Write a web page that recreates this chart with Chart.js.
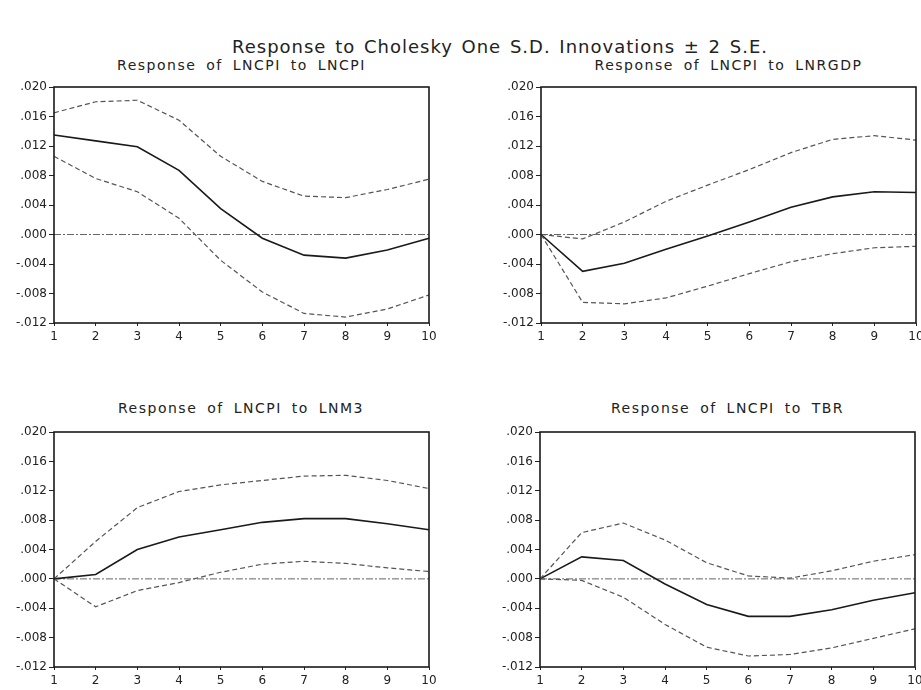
<!DOCTYPE html>
<html>
<head>
<meta charset="utf-8">
<script src="https://cdn.jsdelivr.net/npm/chart.js@4.4.1/dist/chart.umd.min.js"></script>
<style>
  html, body { margin: 0; padding: 0; background: #ffffff; }
  body { width: 921px; height: 690px; position: relative; overflow: hidden; }
  .ttl { position: absolute; font-family: "DejaVu Sans", Arial, sans-serif; color: #222; white-space: nowrap; text-align: center; }
  #mainTitle { left: 0px; width: 1000px; top: 36px; font-size: 18px; letter-spacing: 1px; word-spacing: 2px; line-height: 21px; }
  .sub { font-size: 14px; letter-spacing: 1.5px; word-spacing: 4px; line-height: 16px; }
  canvas { position: absolute; }
</style>
</head>
<body>
<div id="mainTitle" class="ttl">Response to Cholesky One S.D. Innovations ± 2 S.E.</div>
<div class="ttl sub" style="left:54px;width:375px;top:57px;">Response of LNCPI to LNCPI</div>
<div class="ttl sub" style="left:541px;width:375px;top:57px;">Response of LNCPI to LNRGDP</div>
<div class="ttl sub" style="left:53px;width:376px;top:400px;">Response of LNCPI to LNM3</div>
<div class="ttl sub" style="left:540px;width:375px;top:400px;">Response of LNCPI to TBR</div>
<canvas id="c1" width="441" height="265" style="left:0px;top:80px;"></canvas>
<canvas id="c2" width="434" height="265" style="left:487px;top:80px;"></canvas>
<canvas id="c3" width="441" height="264" style="left:0px;top:425px;"></canvas>
<canvas id="c4" width="435" height="264" style="left:486px;top:425px;"></canvas>
<script>
// ---- Data ----
const periods = ["1","2","3","4","5","6","7","8","9","10"];
const yTicks = [-0.012, -0.008, -0.004, 0.000, 0.004, 0.008, 0.012, 0.016, 0.020];

// Response of LNCPI to LNCPI
const cpiResp  = [0.0135, 0.0127, 0.0119, 0.0087, 0.0035, -0.0005, -0.0028, -0.0032, -0.0021, -0.0005];
const cpiUpper = [0.0165, 0.0180, 0.0182, 0.0155, 0.0106, 0.0072, 0.0052, 0.0050, 0.0061, 0.0075];
const cpiLower = [0.0106, 0.0076, 0.0058, 0.0022, -0.0035, -0.0078, -0.0107, -0.0112, -0.0101, -0.0082];

// Response of LNCPI to LNRGDP
const gdpResp  = [0.0000, -0.0050, -0.0039, -0.0020, -0.0002, 0.0017, 0.0037, 0.0051, 0.0058, 0.0057];
const gdpUpper = [0.0000, -0.0006, 0.0017, 0.0045, 0.0067, 0.0088, 0.0111, 0.0129, 0.0134, 0.0128];
const gdpLower = [0.0000, -0.0092, -0.0094, -0.0086, -0.0070, -0.0053, -0.0037, -0.0026, -0.0018, -0.0016];

// Response of LNCPI to LNM3
const m3Resp  = [0.0000, 0.0006, 0.0040, 0.0057, 0.0067, 0.0077, 0.0082, 0.0082, 0.0075, 0.0067];
const m3Upper = [0.0000, 0.0051, 0.0097, 0.0119, 0.0128, 0.0134, 0.0140, 0.0141, 0.0134, 0.0123];
const m3Lower = [0.0000, -0.0038, -0.0016, -0.0005, 0.0009, 0.0020, 0.0024, 0.0021, 0.0015, 0.0010];

// Response of LNCPI to TBR
const tbrResp  = [0.0000, 0.0030, 0.0025, -0.0007, -0.0035, -0.0051, -0.0051, -0.0042, -0.0029, -0.0019];
const tbrUpper = [0.0000, 0.0063, 0.0076, 0.0053, 0.0022, 0.0004, 0.0001, 0.0011, 0.0024, 0.0033];
const tbrLower = [0.0000, -0.0002, -0.0025, -0.0062, -0.0093, -0.0105, -0.0103, -0.0094, -0.0081, -0.0068];

// ---- Drawing ----
const tickFont = { family: "DejaVu Sans", size: 12 };

const framePlugin = {
  id: 'frame',
  beforeDatasetsDraw(chart) {
    const ctx = chart.ctx, a = chart.chartArea, y = chart.scales.y;
    const y0 = y.getPixelForValue(0);
    ctx.save();
    ctx.strokeStyle = '#666';
    ctx.lineWidth = 1;
    ctx.setLineDash([7, 2, 2, 2]);
    ctx.beginPath();
    ctx.moveTo(a.left, y0);
    ctx.lineTo(a.right, y0);
    ctx.stroke();
    ctx.restore();
  },
  afterDatasetsDraw(chart) {
    const ctx = chart.ctx, a = chart.chartArea;
    ctx.save();
    ctx.strokeStyle = '#1a1a1a';
    ctx.lineWidth = 1.6;
    ctx.strokeRect(a.left, a.top, a.right - a.left, a.bottom - a.top);
    ctx.restore();
  }
};

function fmt(v) {
  const s = Number(v).toFixed(3);
  return s.replace(/^(-?)0\./, '$1.');
}

function makeChart(id, resp, upper, lower, padRight) {
  new Chart(document.getElementById(id), {
    type: 'line',
    data: {
      labels: periods,
      datasets: [
        { data: upper, borderColor: '#555', borderWidth: 1.2, borderDash: [5, 3], pointRadius: 0, tension: 0, fill: false },
        { data: lower, borderColor: '#555', borderWidth: 1.2, borderDash: [5, 3], pointRadius: 0, tension: 0, fill: false },
        { data: resp, borderColor: '#1a1a1a', borderWidth: 1.6, pointRadius: 0, tension: 0, fill: false }
      ]
    },
    options: {
      responsive: false,
      animation: false,
      layout: { padding: { top: 7, right: padRight, bottom: 0, left: 0 } },
      plugins: { legend: { display: false }, tooltip: { enabled: false }, title: { display: false } },
      scales: {
        x: {
          offset: false,
          grid: { display: true, drawOnChartArea: false, drawTicks: true, tickLength: 3, tickColor: '#222', lineWidth: 1 },
          border: { display: false },
          ticks: { color: '#222', font: tickFont, padding: 4, maxRotation: 0, autoSkip: false },
          afterFit(s) { s.height = 22; s.paddingLeft = 0; s.paddingRight = 0; }
        },
        y: {
          min: -0.012, max: 0.020,
          afterBuildTicks(s) { s.ticks = yTicks.map(v => ({ value: v })); },
          grid: { display: true, drawOnChartArea: false, drawTicks: true, tickLength: 5, tickColor: '#222', lineWidth: 1 },
          border: { display: false },
          ticks: { color: '#222', font: tickFont, padding: 2, callback: v => fmt(v) },
          afterFit(s) { s.width = 54; s.paddingTop = 0; s.paddingBottom = 0; }
        }
      }
    },
    plugins: [framePlugin]
  });
}

makeChart('c1', cpiResp, cpiUpper, cpiLower, 12);
makeChart('c2', gdpResp, gdpUpper, gdpLower, 5);
makeChart('c3', m3Resp, m3Upper, m3Lower, 12);
makeChart('c4', tbrResp, tbrUpper, tbrLower, 6);
</script>
</body>
</html>
